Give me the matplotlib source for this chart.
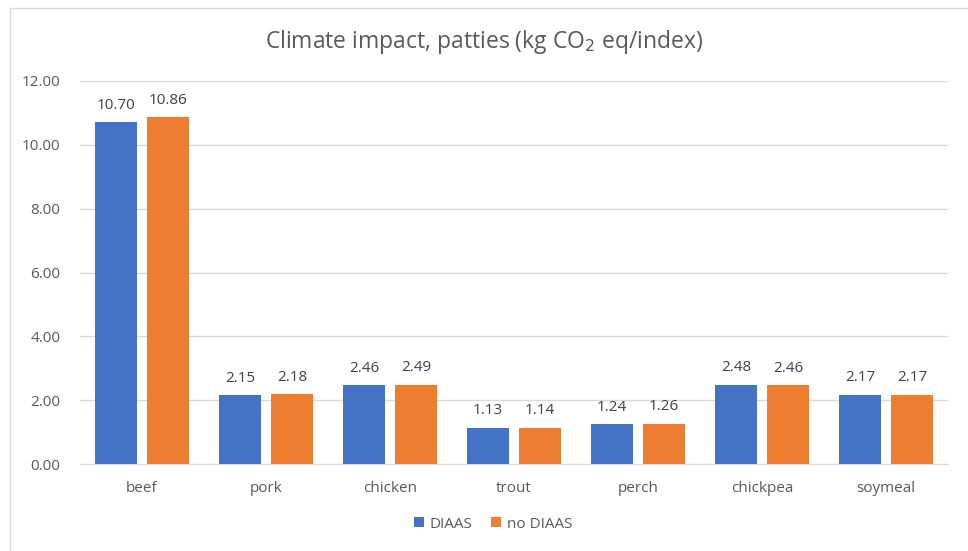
import numpy as np
import matplotlib.pyplot as plt
from matplotlib.patches import Rectangle

# data
foods = ["beef", "pork", "chicken", "trout", "perch", "chickpea", "soymeal"]
diaas = [10.70, 2.15, 2.46, 1.13, 1.24, 2.48, 2.17]
no_diaas = [10.86, 2.18, 2.49, 1.14, 1.26, 2.46, 2.17]

blue = "#4472c4"
orange = "#ed7d31"
grey = "#595959"

plt.rcParams['font.family'] = ['Open Sans', 'DejaVu Sans']

fig = plt.figure(figsize=(9.68, 5.51), dpi=100)
ax = fig.add_axes([80/968, 1 - 464/551, 868/968, (464-81)/551])

x = np.arange(len(foods))
w = 0.34
off = 0.21
b1 = ax.bar(x - off, diaas, w, color=blue, label="DIAAS", zorder=3)
b2 = ax.bar(x + off, no_diaas, w, color=orange, label="no DIAAS", zorder=3)

for bars, vals in [(b1, diaas), (b2, no_diaas)]:
    for r, v in zip(bars, vals):
        ax.annotate(f"{v:.2f}", (r.get_x() + r.get_width()/2, v), xytext=(0, 7),
                    textcoords="offset points", ha="center", va="bottom",
                    fontsize=11, color="#404040")

ax.set_xlim(-0.5, len(foods) - 0.5)
ax.set_ylim(0, 12)
ax.set_yticks(np.arange(0, 12.1, 2))
ax.set_yticklabels([f"{t:.2f}" for t in np.arange(0, 12.1, 2)])
ax.set_xticks(x)
ax.set_xticklabels(foods)
ax.tick_params(length=0, labelsize=11, colors=grey)
ax.tick_params(axis='x', pad=12)
ax.tick_params(axis='y', pad=14)
ax.grid(axis='y', color="#d9d9d9", linewidth=1, zorder=0)
for s in ["top", "right", "left"]:
    ax.spines[s].set_visible(False)
ax.spines["bottom"].set_color("#d9d9d9")

fig.text(0.5, 1 - 42/551, r"Climate impact, patties (kg CO$_2$ eq/index)", ha="center", va="center",
         fontsize=16.5, color=grey)

fig.legend(loc="center", bbox_to_anchor=(493/968, 1 - 524/551), ncol=2, frameon=False,
           fontsize=11, labelcolor=grey, handlelength=0.65, handleheight=0.65,
           columnspacing=1.2, handletextpad=0.4)

fig.patches.append(Rectangle((10/968, -0.1), 1.2, 1 - 8/551 + 0.1, transform=fig.transFigure,
                             fill=False, edgecolor="#d9d9d9", linewidth=1))

fig.savefig("out.png", dpi=100)
